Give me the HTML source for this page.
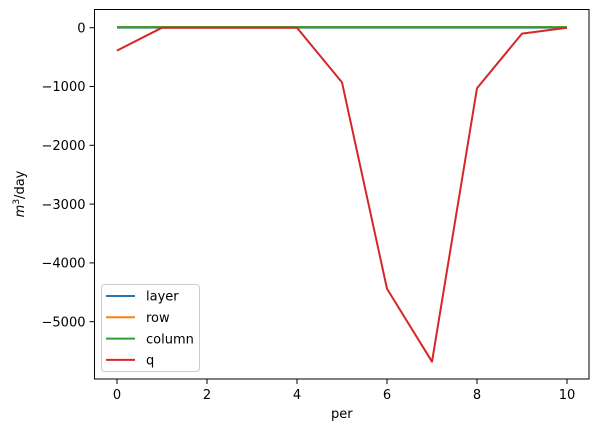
<!DOCTYPE html>
<html><head><meta charset="utf-8"><style>
body{margin:0;background:#fff}
svg{display:block;font-family:"DejaVu Sans","Liberation Sans",sans-serif}
</style></head><body>
<svg id="chart" width="600" height="432"></svg>
<script>
const periods=[0,1,2,3,4,5,6,7,8,9,10];
const layerVals=[1,1,1,1,1,1,1,1,1,1,1];
const rowVals=[10,10,10,10,10,10,10,10,10,10,10];
const colVals=[10,10,10,10,10,10,10,10,10,10,10];
const qVals=[-390,0,0,0,0,-930,-4440,-5680,-1030,-100,0];
const xTicks=[0,2,4,6,8,10];
const yTicks=[0,-1000,-2000,-3000,-4000,-5000];
const seriesNames=["layer","row","column","q"];
const colors=["#1f77b4","#ff7f0e","#2ca02c","#d62728"];

const L=94.5,R=589,T=9.5,B=379;
const xs=v=>117+v*45;
const ys=v=>27.7-v*0.0588;
const NS="http://www.w3.org/2000/svg";
const svg=document.getElementById('chart');
function mk(t,a,p){const e=document.createElementNS(NS,t);for(const k in a)e.setAttribute(k,a[k]);(p||svg).appendChild(e);return e;}

const series=[layerVals,rowVals,colVals,qVals];
series.forEach((s,i)=>{
 const pl=mk('polyline',{points:s.map((v,j)=>xs(periods[j])+','+ys(v)).join(' '),fill:'none',stroke:colors[i],'stroke-width':2,'stroke-linejoin':'round'});
 
 
});
const frame=mk('rect',{x:L,y:T,width:R-L,height:B-T,fill:'none',stroke:'#000','stroke-width':1});



xTicks.forEach(v=>{
 mk('line',{x1:xs(v),x2:xs(v),y1:B,y2:B+5,stroke:'#000','stroke-width':1});
 const t=mk('text',{x:xs(v),y:B+20,'font-size':13,'text-anchor':'middle',fill:'#000'});
 t.textContent=v;
 
 
});
yTicks.forEach(v=>{
 mk('line',{x1:L,x2:L-5,y1:ys(v),y2:ys(v),stroke:'#000','stroke-width':1});
 const t=mk('text',{x:L-9,y:ys(v)+4.7,'font-size':13,'text-anchor':'end',fill:'#000'});
 t.textContent=v<0?'\u2212'+(-v):String(v);
 
 
});
const xt=mk('text',{x:(L+R)/2,y:418,'font-size':13,'text-anchor':'middle'});
xt.textContent='per';


const yt=mk('text',{x:0,y:0,'font-size':13,'text-anchor':'middle',transform:'translate(24,194) rotate(-90)'});
yt.innerHTML='<tspan font-style="italic">m</tspan><tspan dy="-5" font-size="9">3</tspan><tspan dy="5">/day</tspan>';



const lg=mk('g',{});


mk('rect',{x:101.5,y:284.5,width:98,height:87,rx:3,fill:'#fff','fill-opacity':0.8,stroke:'#ccc','stroke-width':1},lg);
seriesNames.forEach((n,i)=>{
 const y=296+i*21.3;
 const g=mk('g',{},lg);
 
 
 mk('line',{x1:106,x2:135,y1:y,y2:y,stroke:colors[i],'stroke-width':2},g);
 const t=mk('text',{x:146,y:y+4.7,'font-size':13},g);
 t.textContent=n;
});
</script>
</body></html>
